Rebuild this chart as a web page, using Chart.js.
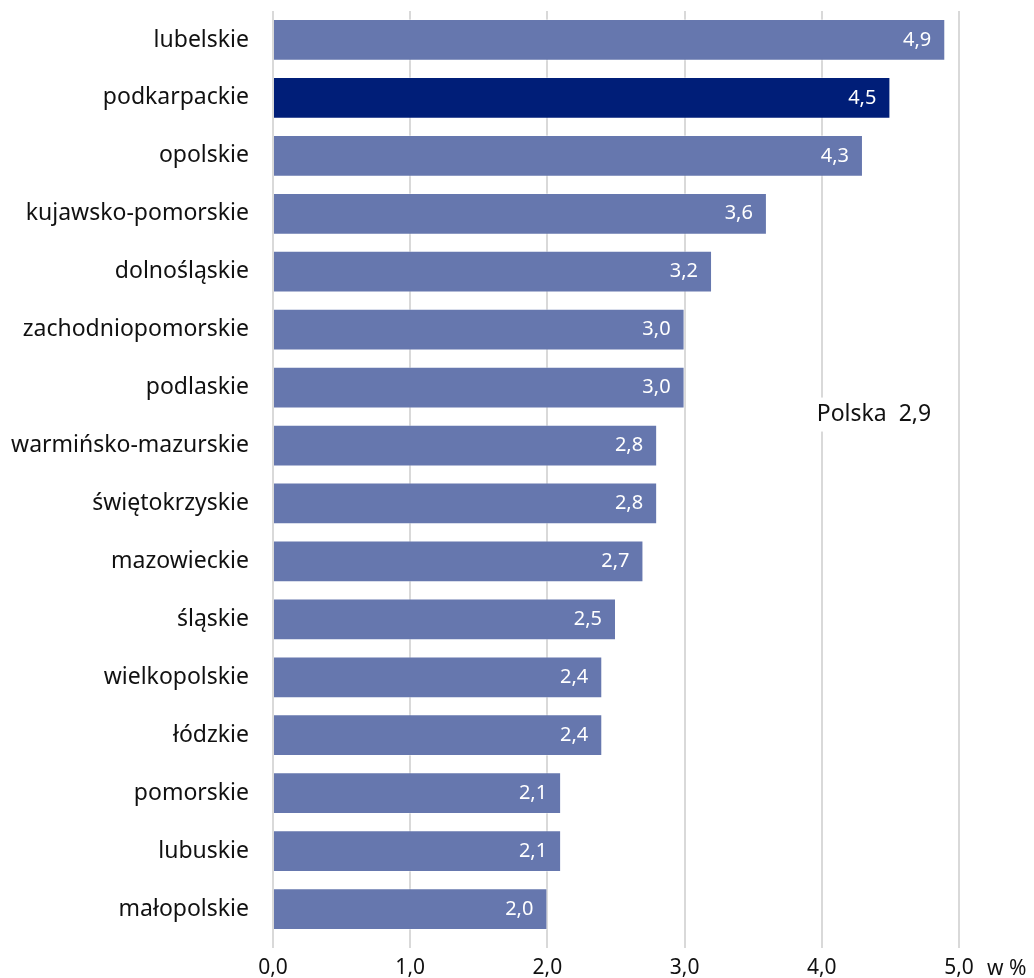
<!DOCTYPE html>
<html><head><meta charset="utf-8">
<script src="https://cdn.jsdelivr.net/npm/chart.js@4"></script>
<style>html,body{margin:0;padding:0;background:#fff;}#wrap{width:1034px;height:978px;}</style>
</head><body><div id="wrap"><canvas id="c" width="1034" height="978"></canvas></div>
<script>
const categories = ["lubelskie","podkarpackie","opolskie","kujawsko-pomorskie","dolnośląskie","zachodniopomorskie","podlaskie","warmińsko-mazurskie","świętokrzyskie","mazowieckie","śląskie","wielkopolskie","łódzkie","pomorskie","lubuskie","małopolskie"];
const values = [4.9,4.5,4.3,3.6,3.2,3.0,3.0,2.8,2.8,2.7,2.5,2.4,2.4,2.1,2.1,2.0];
const highlight = "podkarpackie";
const nationalLabel = "Polska  2,9";
const unitLabel = "w %";
const xTicks = [0,1,2,3,4,5];
const FONT = "'Noto Sans', sans-serif";
const fmt = v => v.toFixed(1).replace('.', ',');

const barColors = categories.map(c => c === highlight ? '#001E78' : '#6677AE');

const labelsPlugin = {
  id: 'labels',
  afterDatasetsDraw(chart) {
    const ctx = chart.ctx;
    const meta = chart.getDatasetMeta(0);
    ctx.save();
    ctx.font = "20px " + FONT;
    ctx.fillStyle = '#fff';
    ctx.textAlign = 'right';
    ctx.textBaseline = 'middle';
    meta.data.forEach((bar, i) => {
      ctx.fillText(fmt(values[i]), bar.x - 14, bar.y);
    });
    const xs = chart.scales.x, ys = chart.scales.y;
    const cx = xs.getPixelForValue(4.38);
    const cy = (ys.getPixelForValue(6) + ys.getPixelForValue(7)) / 2 - 2;
    ctx.font = "23px " + FONT;
    const w = ctx.measureText(nationalLabel).width;
    ctx.fillStyle = '#fff';
    ctx.fillRect(cx - w/2 - 4, cy - 17, w + 8, 34);
    ctx.fillStyle = '#111';
    ctx.textAlign = 'center';
    ctx.fillText(nationalLabel, cx, cy);
    ctx.textAlign = 'left';
    ctx.font = "21px " + FONT;
    const tx = xs.getPixelForValue(5);
    ctx.fillText(unitLabel, tx + 28, chart.chartArea.bottom + 31);
    ctx.restore();
  }
};

new Chart(document.getElementById('c'), {
  type: 'bar',
  data: {
    labels: categories,
    datasets: [{
      data: values,
      backgroundColor: barColors,
      borderColor: 'rgba(255,255,255,0.35)',
      borderWidth: 1,
      barPercentage: 0.72,
      categoryPercentage: 1.0
    }]
  },
  options: {
    indexAxis: 'y',
    responsive: false,
    animation: false,
    layout: { padding: { left: 0, right: 75, top: 11, bottom: 0 } },
    plugins: { legend: { display: false }, tooltip: { enabled: false } },
    scales: {
      x: {
        min: 0, max: 5,
        afterBuildTicks: s => { s.ticks = xTicks.map(v => ({ value: v })); },
        ticks: { callback: v => fmt(v), color: '#111', font: { family: FONT, size: 21 }, padding: 7, maxRotation: 0 },
        grid: { color: '#d9d9d9', lineWidth: 2, drawTicks: true, tickLength: 10, tickColor: '#d9d9d9' },
        border: { display: false },
        afterFit: s => { s.height = 40; }
      },
      y: {
        ticks: { color: '#111', font: { family: FONT, size: 23 }, padding: 16 },
        grid: { display: false },
        border: { display: false },
        afterFit: s => { s.width = 273; s.paddingTop = 0; s.paddingBottom = 0; }
      }
    }
  },
  plugins: [labelsPlugin]
});
</script>
</body></html>
